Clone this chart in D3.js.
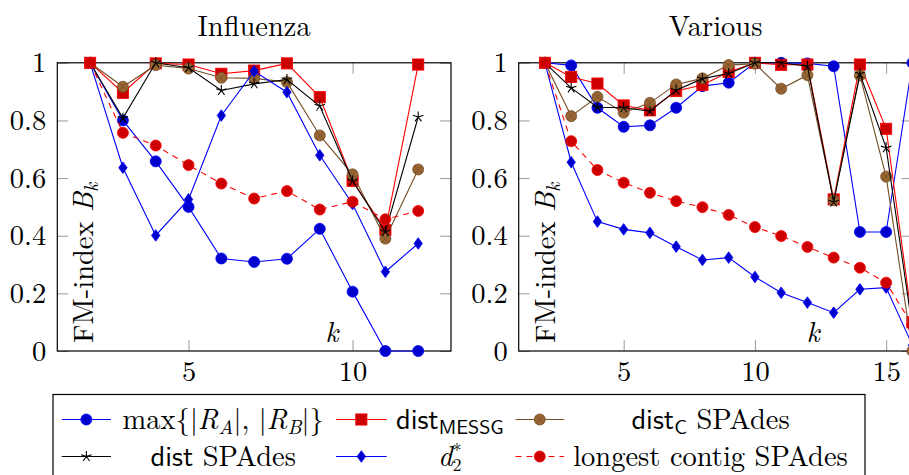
<!DOCTYPE html>
<html>
<head>
<meta charset="utf-8">
<script src="https://cdn.jsdelivr.net/npm/d3@7"></script>
<style>
  html, body { margin: 0; padding: 0; background: #fff; overflow: hidden; }
  svg { display: block; }
</style>
</head>
<body>
<svg id="chart" width="909" height="475"></svg>
<script>
// ---------------- DATA ----------------
const panelTitles = ["Influenza", "Various"];
const seriesNames = ["max{|R_A|,|R_B|}", "dist_MESSG", "dist_C SPAdes", "dist SPAdes", "d_2^*", "longest contig SPAdes"];

const kInfluenza = [2, 3, 4, 5, 6, 7, 8, 9, 10, 11, 12];
const influenzaMaxR     = [1.00, 0.80, 0.658, 0.50, 0.321, 0.309, 0.320, 0.424, 0.206, 0.00, 0.00];
const influenzaMESSG    = [1.00, 0.896, 0.998, 0.994, 0.962, 0.973, 0.998, 0.881, 0.590, 0.42, 0.994];
const influenzaDistC    = [1.00, 0.917, 0.992, 0.980, 0.948, 0.946, 0.933, 0.748, 0.613, 0.39, 0.63];
const influenzaDist     = [1.00, 0.808, 1.00, 0.983, 0.904, 0.927, 0.942, 0.85, 0.59, 0.414, 0.812];
const influenzaD2       = [1.00, 0.636, 0.401, 0.526, 0.817, 0.971, 0.898, 0.679, 0.51, 0.275, 0.373];
const influenzaLongest  = [1.00, 0.757, 0.713, 0.645, 0.581, 0.529, 0.555, 0.491, 0.518, 0.457, 0.486];

const kVarious = [2, 3, 4, 5, 6, 7, 8, 9, 10, 11, 12, 13, 14, 15, 16];
const variousMaxR    = [1.00, 0.991, 0.844, 0.778, 0.783, 0.844, 0.919, 0.931, 1.00, 1.00, 0.998, 0.988, 0.413, 0.413, 1.00];
const variousMESSG   = [1.00, 0.951, 0.928, 0.852, 0.835, 0.902, 0.923, 0.968, 1.00, 0.993, 0.994, 0.526, 0.994, 0.771, 0.10];
const variousDistC   = [1.00, 0.815, 0.882, 0.827, 0.861, 0.925, 0.946, 0.992, 0.997, 0.91, 0.957, 0.523, 0.956, 0.605, 0.00];
const variousDist    = [1.00, 0.913, 0.846, 0.844, 0.832, 0.905, 0.945, 0.963, 1.00, 1.00, 0.988, 0.517, 0.962, 0.705, 0.08];
const variousD2      = [1.00, 0.655, 0.449, 0.422, 0.410, 0.362, 0.316, 0.324, 0.257, 0.202, 0.168, 0.133, 0.214, 0.220, 0.02];
const variousLongest = [1.00, 0.728, 0.628, 0.584, 0.549, 0.520, 0.499, 0.472, 0.430, 0.399, 0.361, 0.324, 0.289, 0.237, 0.09];

const yTicks = [0, 0.2, 0.4, 0.6, 0.8, 1];
const yTickLabels = ["0", "0.2", "0.4", "0.6", "0.8", "1"];
const xTicksInfluenza = [5, 10];
const xTicksVarious = [5, 10, 15];

// ---------------- STYLES ----------------
const SERIF = "Latin Modern Roman, Liberation Serif, serif";
const SANS = "Latin Modern Sans, Liberation Sans, sans-serif";
const styles = [
  { marker: "circle",  stroke: "#0000FF", fill: "#0000CC", dash: null },
  { marker: "square",  stroke: "#FF0000", fill: "#CC0000", dash: null },
  { marker: "otimes",  stroke: "#734D26", fill: "#996633", dash: null },
  { marker: "star",    stroke: "#000000", fill: "none",    dash: null },
  { marker: "diamond", stroke: "#0000FF", fill: "#0000CC", dash: null },
  { marker: "circle",  stroke: "#FF0000", fill: "#CC0000", dash: "6,5" }
];

const svg = d3.select("#chart").attr("font-family", SERIF);
const FS = 28.5;
const SUB = 20;

function drawMarker(g, type, st, x, y) {
  const r = 5.5;
  if (type === "circle") {
    g.append("circle").attr("cx", x).attr("cy", y).attr("r", r)
      .attr("fill", st.fill).attr("stroke", st.stroke).attr("stroke-width", 0.8);
  } else if (type === "square") {
    g.append("rect").attr("x", x - 5.6).attr("y", y - 5.6).attr("width", 11.2).attr("height", 11.2)
      .attr("fill", st.fill).attr("stroke", st.stroke).attr("stroke-width", 0.8);
  } else if (type === "otimes") {
    g.append("circle").attr("cx", x).attr("cy", y).attr("r", r)
      .attr("fill", st.fill).attr("stroke", st.stroke).attr("stroke-width", 0.8);
    const d = r * Math.SQRT1_2;
    g.append("path").attr("d", `M${x-d},${y-d}L${x+d},${y+d}M${x-d},${y+d}L${x+d},${y-d}`)
      .attr("stroke", st.stroke).attr("stroke-width", 0.8).attr("fill", "none");
  } else if (type === "star") {
    let p = "";
    for (let i = 0; i < 5; i++) {
      const a = -Math.PI / 2 + i * 2 * Math.PI / 5;
      p += `M${x},${y}L${x + r * Math.cos(a)},${y + r * Math.sin(a)}`;
    }
    g.append("path").attr("d", p).attr("stroke", "#000").attr("stroke-width", 1.1).attr("fill", "none");
  } else if (type === "diamond") {
    g.append("path").attr("d", `M${x},${y-5.8}L${x+4.2},${y}L${x},${y+5.8}L${x-4.2},${y}Z`)
      .attr("fill", st.fill).attr("stroke", st.stroke).attr("stroke-width", 0.8);
  }
}

function drawPanel(cfg) {
  const x = d3.scaleLinear().domain(cfg.xDomain).range([cfg.left, cfg.right]);
  const y = d3.scaleLinear().domain([0, 1]).range([cfg.bottom, cfg.top]);
  const g = svg.append("g");

  const tickLen = 11;
  const ax = [
    g.append("g").attr("transform", `translate(0,${cfg.bottom})`)
      .call(d3.axisBottom(x).tickValues(cfg.xTicks).tickFormat(d3.format("d")).tickSizeInner(-tickLen).tickSizeOuter(0).tickPadding(9.5)),
    g.append("g").attr("transform", `translate(0,${cfg.top})`)
      .call(d3.axisTop(x).tickValues(cfg.xTicks).tickFormat("").tickSizeInner(-tickLen).tickSizeOuter(0)),
    g.append("g").attr("transform", `translate(${cfg.left},0)`)
      .call(d3.axisLeft(y).tickValues(yTicks).tickFormat((d, i) => yTickLabels[i]).tickSizeInner(-tickLen).tickSizeOuter(0).tickPadding(11)),
    g.append("g").attr("transform", `translate(${cfg.right},0)`)
      .call(d3.axisRight(y).tickValues(yTicks).tickFormat("").tickSizeInner(-tickLen).tickSizeOuter(0))
  ];
  ax.forEach(a => {
    a.attr("font-family", SERIF).attr("font-size", FS);
    a.select(".domain").remove();
    a.selectAll(".tick line").attr("stroke", "#999").attr("stroke-width", 1);
    a.selectAll(".tick text").attr("fill", "#000");
  });

  g.append("rect").attr("x", cfg.left).attr("y", cfg.top)
    .attr("width", cfg.right - cfg.left).attr("height", cfg.bottom - cfg.top)
    .attr("fill", "none").attr("stroke", "#000").attr("stroke-width", 1.2);

  g.append("text").attr("x", (cfg.left + cfg.right) / 2).attr("y", 36)
    .attr("text-anchor", "middle").attr("font-size", FS).text(cfg.title);

  const yl = g.append("text").attr("transform", `translate(${cfg.left + 36},${cfg.bottom - 8}) rotate(-90)`)
    .attr("font-size", FS).attr("text-anchor", "start");
  yl.append("tspan").text("FM-index ");
  yl.append("tspan").attr("font-style", "italic").text("B");
  yl.append("tspan").attr("font-style", "italic").attr("font-size", SUB).attr("dy", 5).text("k");

  g.append("text").attr("x", cfg.kx).attr("y", cfg.bottom - 9.5)
    .attr("text-anchor", "middle").attr("font-style", "italic").attr("font-size", FS).text("k");

  const line = d3.line().x(d => x(d[0])).y(d => y(d[1]));
  cfg.series.forEach((vals, si) => {
    const st = styles[si];
    const pts = cfg.ks.map((k, i) => [k, vals[i]]);
    const sg = g.append("g");
    sg.append("path").attr("d", line(pts)).attr("fill", "none")
      .attr("stroke", st.stroke).attr("stroke-width", 1.1)
      .attr("stroke-dasharray", st.dash);
    pts.forEach(p => drawMarker(sg, st.marker, st, x(p[0]), y(p[1])));
  });
}

drawPanel({
  title: panelTitles[0], left: 57.3, right: 451, top: 62.8, bottom: 351,
  xDomain: [1, 13], xTicks: xTicksInfluenza, kx: 331.7, ks: kInfluenza,
  series: [influenzaMaxR, influenzaMESSG, influenzaDistC, influenzaDist, influenzaD2, influenzaLongest]
});
drawPanel({
  title: panelTitles[1], left: 518.7, right: 912.4, top: 62.8, bottom: 351,
  xDomain: [1, 16], xTicks: xTicksVarious, kx: 813, ks: kVarious,
  series: [variousMaxR, variousMESSG, variousDistC, variousDist, variousD2, variousLongest]
});

// ---------------- LEGEND ----------------
const lg = svg.append("g");
lg.append("rect").attr("x", 53).attr("y", 394.5).attr("width", 812).attr("height", 120)
  .attr("fill", "#fff").attr("stroke", "#000").attr("stroke-width", 1.2);

const legCols = [
  { lx0: 61.7, lx1: 111, tc: 223.2 },
  { lx0: 336, lx1: 386.7, tc: 449.8 },
  { lx0: 515.5, lx1: 564, tc: 710.5 }
];
const legRows = [419.5, 456.5];

function legendText(t, idx) {
  if (idx === 0) {
    t.append("tspan").text("max{|");
    t.append("tspan").attr("font-style", "italic").text("R");
    t.append("tspan").attr("font-style", "italic").attr("font-size", SUB).attr("dy", 5).text("A");
    t.append("tspan").attr("dy", -5).text("|, |");
    t.append("tspan").attr("font-style", "italic").text("R");
    t.append("tspan").attr("font-style", "italic").attr("font-size", SUB).attr("dy", 5).text("B");
    t.append("tspan").attr("dy", -5).text("|}");
  } else if (idx === 1) {
    t.append("tspan").attr("font-family", SANS).text("dist");
    t.append("tspan").attr("font-family", SANS).attr("font-size", SUB).attr("dy", 5).text("MESSG");
  } else if (idx === 2) {
    t.append("tspan").attr("font-family", SANS).text("dist");
    t.append("tspan").attr("font-family", SANS).attr("font-size", SUB).attr("dy", 5).text("C");
    t.append("tspan").attr("dy", -5).text(" SPAdes");
  } else if (idx === 3) {
    t.append("tspan").attr("font-family", SANS).text("dist");
    t.append("tspan").text(" SPAdes");
  } else if (idx === 4) {
    t.append("tspan").attr("font-style", "italic").text("d");
    t.append("tspan").attr("font-size", 18).attr("dy", -9).text("*");
    t.append("tspan").attr("font-size", 18).attr("dx", -9).attr("dy", 14).text("2");
  } else {
    t.append("tspan").text("longest contig SPAdes");
  }
}

seriesNames.forEach((name, i) => {
  const col = legCols[i % 3], ry = legRows[Math.floor(i / 3)];
  const st = styles[i];
  lg.append("line").attr("x1", col.lx0).attr("x2", col.lx1).attr("y1", ry).attr("y2", ry)
    .attr("stroke", st.stroke).attr("stroke-width", 1.1).attr("stroke-dasharray", st.dash);
  drawMarker(lg, st.marker, st, (col.lx0 + col.lx1) / 2, ry);
  const t = lg.append("text").attr("x", col.tc).attr("y", ry + 9)
    .attr("text-anchor", "middle").attr("font-size", FS);
  legendText(t, i);
});
</script>
</body>
</html>
